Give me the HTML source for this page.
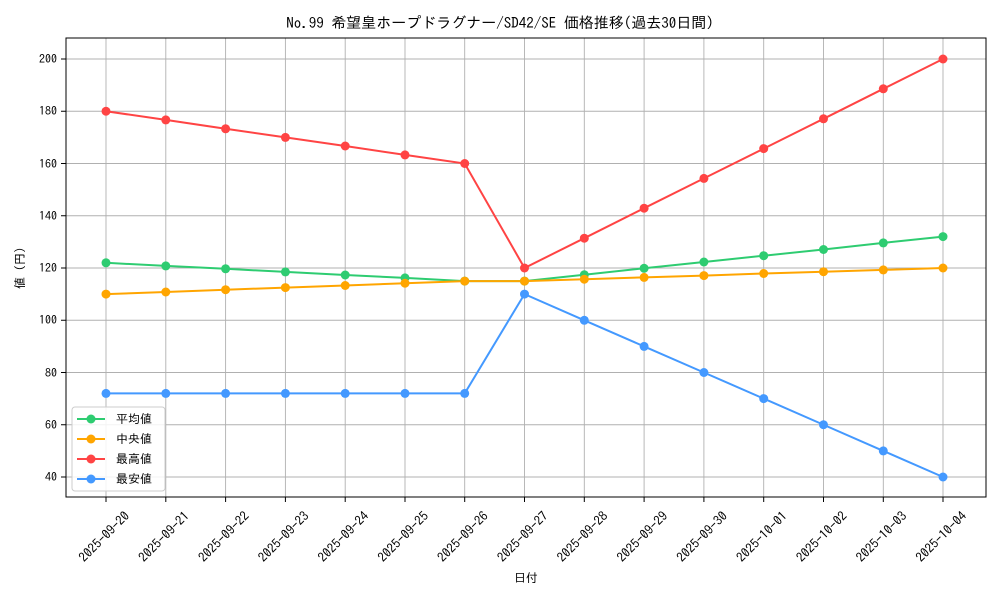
<!DOCTYPE html>
<html><head><meta charset="utf-8"><style>
body{margin:0;background:#fff}
svg text{font-family:"IPAGothic","Liberation Sans","Noto Sans CJK JP",sans-serif;fill:#000}
</style></head><body>
<svg width="1000" height="600" viewBox="0 0 1000 600">
<rect width="1000" height="600" fill="#fff"/>
<text x="500" y="28" font-size="15" text-anchor="middle">No.99 希望皇ホープドラグナー/SD42/SE 価格推移(過去30日間)</text>
<g stroke="#b0b0b0" stroke-width="0.9">
<line x1="106" y1="38" x2="106" y2="497"/><line x1="165.8" y1="38" x2="165.8" y2="497"/><line x1="225.6" y1="38" x2="225.6" y2="497"/><line x1="285.4" y1="38" x2="285.4" y2="497"/><line x1="345.2" y1="38" x2="345.2" y2="497"/><line x1="405" y1="38" x2="405" y2="497"/><line x1="464.7" y1="38" x2="464.7" y2="497"/><line x1="524.5" y1="38" x2="524.5" y2="497"/><line x1="584.3" y1="38" x2="584.3" y2="497"/><line x1="644.1" y1="38" x2="644.1" y2="497"/><line x1="703.9" y1="38" x2="703.9" y2="497"/><line x1="763.7" y1="38" x2="763.7" y2="497"/><line x1="823.5" y1="38" x2="823.5" y2="497"/><line x1="883.3" y1="38" x2="883.3" y2="497"/><line x1="943" y1="38" x2="943" y2="497"/>
<line x1="66" y1="477" x2="986" y2="477"/><line x1="66" y1="424.75" x2="986" y2="424.75"/><line x1="66" y1="372.5" x2="986" y2="372.5"/><line x1="66" y1="320.25" x2="986" y2="320.25"/><line x1="66" y1="268" x2="986" y2="268"/><line x1="66" y1="215.75" x2="986" y2="215.75"/><line x1="66" y1="163.5" x2="986" y2="163.5"/><line x1="66" y1="111.25" x2="986" y2="111.25"/><line x1="66" y1="59" x2="986" y2="59"/>
</g>
<rect x="66" y="38" width="920" height="459" fill="none" stroke="#000" stroke-width="1"/>
<g stroke="#000">
<line x1="61" y1="477" x2="66" y2="477"/><line x1="61" y1="424.75" x2="66" y2="424.75"/><line x1="61" y1="372.5" x2="66" y2="372.5"/><line x1="61" y1="320.25" x2="66" y2="320.25"/><line x1="61" y1="268" x2="66" y2="268"/><line x1="61" y1="215.75" x2="66" y2="215.75"/><line x1="61" y1="163.5" x2="66" y2="163.5"/><line x1="61" y1="111.25" x2="66" y2="111.25"/><line x1="61" y1="59" x2="66" y2="59"/>
<line x1="106" y1="497" x2="106" y2="502"/><line x1="165.8" y1="497" x2="165.8" y2="502"/><line x1="225.6" y1="497" x2="225.6" y2="502"/><line x1="285.4" y1="497" x2="285.4" y2="502"/><line x1="345.2" y1="497" x2="345.2" y2="502"/><line x1="405" y1="497" x2="405" y2="502"/><line x1="464.7" y1="497" x2="464.7" y2="502"/><line x1="524.5" y1="497" x2="524.5" y2="502"/><line x1="584.3" y1="497" x2="584.3" y2="502"/><line x1="644.1" y1="497" x2="644.1" y2="502"/><line x1="703.9" y1="497" x2="703.9" y2="502"/><line x1="763.7" y1="497" x2="763.7" y2="502"/><line x1="823.5" y1="497" x2="823.5" y2="502"/><line x1="883.3" y1="497" x2="883.3" y2="502"/><line x1="943" y1="497" x2="943" y2="502"/>
</g>
<g font-size="12" text-anchor="end">
<text x="57" y="481">40</text><text x="57" y="429">60</text><text x="57" y="377">80</text><text x="57" y="324">100</text><text x="57" y="272">120</text><text x="57" y="220">140</text><text x="57" y="168">160</text><text x="57" y="115">180</text><text x="57" y="63">200</text>
</g>
<g font-size="13" text-anchor="middle">
<text transform="translate(104.5,537) rotate(-45)" dy="4">2025-09-20</text>
<text transform="translate(164.3,537) rotate(-45)" dy="4">2025-09-21</text>
<text transform="translate(224.1,537) rotate(-45)" dy="4">2025-09-22</text>
<text transform="translate(283.9,537) rotate(-45)" dy="4">2025-09-23</text>
<text transform="translate(343.7,537) rotate(-45)" dy="4">2025-09-24</text>
<text transform="translate(403.5,537) rotate(-45)" dy="4">2025-09-25</text>
<text transform="translate(463.2,537) rotate(-45)" dy="4">2025-09-26</text>
<text transform="translate(523,537) rotate(-45)" dy="4">2025-09-27</text>
<text transform="translate(582.8,537) rotate(-45)" dy="4">2025-09-28</text>
<text transform="translate(642.6,537) rotate(-45)" dy="4">2025-09-29</text>
<text transform="translate(702.4,537) rotate(-45)" dy="4">2025-09-30</text>
<text transform="translate(762.2,537) rotate(-45)" dy="4">2025-10-01</text>
<text transform="translate(822,537) rotate(-45)" dy="4">2025-10-02</text>
<text transform="translate(881.8,537) rotate(-45)" dy="4">2025-10-03</text>
<text transform="translate(941.5,537) rotate(-45)" dy="4">2025-10-04</text>
</g>
<text x="526" y="582" font-size="12" text-anchor="middle">日付</text>
<text transform="translate(24,268) rotate(-90)" font-size="12" text-anchor="middle">値 (円)</text>
<g fill="none" stroke-width="2">
<polyline stroke="#2ecc71" points="106,262.8 165.8,265.9 225.6,268.8 285.4,271.9 345.2,275 405,277.9 464.7,281.1 524.5,281.1 584.3,274.8 644.1,268.3 703.9,262 763.7,255.7 823.5,249.5 883.3,242.9 943,236.6"/>
<polyline stroke="#ffa500" points="106,294.1 165.8,292 225.6,289.7 285.4,287.6 345.2,285.5 405,283.2 464.7,281.1 524.5,281.1 584.3,279.2 644.1,277.4 703.9,275.6 763.7,273.5 823.5,271.7 883.3,269.9 943,268"/>
<polyline stroke="#ff4444" points="106,111.25 165.8,119.9 225.6,128.8 285.4,137.4 345.2,146 405,154.9 464.7,163.5 524.5,268 584.3,238.2 644.1,208.2 703.9,178.4 763.7,148.6 823.5,118.8 883.3,88.8 943,59"/>
<polyline stroke="#4499ff" points="106,393.4 165.8,393.4 225.6,393.4 285.4,393.4 345.2,393.4 405,393.4 464.7,393.4 524.5,294.1 584.3,320.3 644.1,346.4 703.9,372.5 763.7,398.6 823.5,424.75 883.3,450.9 943,477"/>
</g>
<g fill="#2ecc71"><circle cx="106" cy="262.8" r="4.5"/><circle cx="165.8" cy="265.9" r="4.5"/><circle cx="225.6" cy="268.8" r="4.5"/><circle cx="285.4" cy="271.9" r="4.5"/><circle cx="345.2" cy="275" r="4.5"/><circle cx="405" cy="277.9" r="4.5"/><circle cx="464.7" cy="281.1" r="4.5"/><circle cx="524.5" cy="281.1" r="4.5"/><circle cx="584.3" cy="274.8" r="4.5"/><circle cx="644.1" cy="268.3" r="4.5"/><circle cx="703.9" cy="262" r="4.5"/><circle cx="763.7" cy="255.7" r="4.5"/><circle cx="823.5" cy="249.5" r="4.5"/><circle cx="883.3" cy="242.9" r="4.5"/><circle cx="943" cy="236.6" r="4.5"/></g>
<g fill="#ffa500"><circle cx="106" cy="294.1" r="4.5"/><circle cx="165.8" cy="292" r="4.5"/><circle cx="225.6" cy="289.7" r="4.5"/><circle cx="285.4" cy="287.6" r="4.5"/><circle cx="345.2" cy="285.5" r="4.5"/><circle cx="405" cy="283.2" r="4.5"/><circle cx="464.7" cy="281.1" r="4.5"/><circle cx="524.5" cy="281.1" r="4.5"/><circle cx="584.3" cy="279.2" r="4.5"/><circle cx="644.1" cy="277.4" r="4.5"/><circle cx="703.9" cy="275.6" r="4.5"/><circle cx="763.7" cy="273.5" r="4.5"/><circle cx="823.5" cy="271.7" r="4.5"/><circle cx="883.3" cy="269.9" r="4.5"/><circle cx="943" cy="268" r="4.5"/></g>
<g fill="#ff4444"><circle cx="106" cy="111.25" r="4.5"/><circle cx="165.8" cy="119.9" r="4.5"/><circle cx="225.6" cy="128.8" r="4.5"/><circle cx="285.4" cy="137.4" r="4.5"/><circle cx="345.2" cy="146" r="4.5"/><circle cx="405" cy="154.9" r="4.5"/><circle cx="464.7" cy="163.5" r="4.5"/><circle cx="524.5" cy="268" r="4.5"/><circle cx="584.3" cy="238.2" r="4.5"/><circle cx="644.1" cy="208.2" r="4.5"/><circle cx="703.9" cy="178.4" r="4.5"/><circle cx="763.7" cy="148.6" r="4.5"/><circle cx="823.5" cy="118.8" r="4.5"/><circle cx="883.3" cy="88.8" r="4.5"/><circle cx="943" cy="59" r="4.5"/></g>
<g fill="#4499ff"><circle cx="106" cy="393.4" r="4.5"/><circle cx="165.8" cy="393.4" r="4.5"/><circle cx="225.6" cy="393.4" r="4.5"/><circle cx="285.4" cy="393.4" r="4.5"/><circle cx="345.2" cy="393.4" r="4.5"/><circle cx="405" cy="393.4" r="4.5"/><circle cx="464.7" cy="393.4" r="4.5"/><circle cx="524.5" cy="294.1" r="4.5"/><circle cx="584.3" cy="320.3" r="4.5"/><circle cx="644.1" cy="346.4" r="4.5"/><circle cx="703.9" cy="372.5" r="4.5"/><circle cx="763.7" cy="398.6" r="4.5"/><circle cx="823.5" cy="424.75" r="4.5"/><circle cx="883.3" cy="450.9" r="4.5"/><circle cx="943" cy="477" r="4.5"/></g>
<rect x="72" y="407" width="93" height="84" rx="3" fill="#fff" fill-opacity="0.85" stroke="#ccc"/>
<g stroke-width="2">
<line x1="77" y1="419" x2="105" y2="419" stroke="#2ecc71"/><circle cx="91" cy="419" r="4.5" fill="#2ecc71"/>
<line x1="77" y1="439" x2="105" y2="439" stroke="#ffa500"/><circle cx="91" cy="439" r="4.5" fill="#ffa500"/>
<line x1="77" y1="459" x2="105" y2="459" stroke="#ff4444"/><circle cx="91" cy="459" r="4.5" fill="#ff4444"/>
<line x1="77" y1="479" x2="105" y2="479" stroke="#4499ff"/><circle cx="91" cy="479" r="4.5" fill="#4499ff"/>
</g>
<g font-size="12">
<text x="116" y="423">平均値</text><text x="116" y="443">中央値</text><text x="116" y="463">最高値</text><text x="116" y="483">最安値</text>
</g>
</svg>
</body></html>
